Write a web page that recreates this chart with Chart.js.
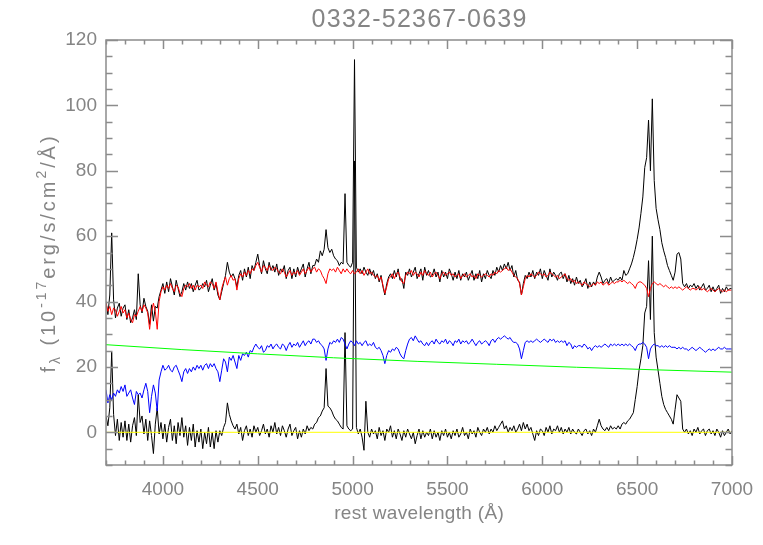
<!DOCTYPE html>
<html><head><meta charset="utf-8">
<script src="https://cdn.jsdelivr.net/npm/chart.js@4.4.1/dist/chart.umd.min.js"></script>
<style>html,body{margin:0;padding:0;background:#fff}#wrap{width:763px;height:545px}</style>
</head><body><div id="wrap"><canvas id="c" width="763" height="545"></canvas></div>
<script>
const chartTitle = '0332-52367-0639';
const xTitle = 'rest wavelength (Å)';
const yTitleParts = [['f',0],['λ',-1],[' (10',0],['-17',1],['erg/s/cm',0],['2',1],['/Å)',0]];
const xTicks = [4000,4500,5000,5500,6000,6500,7000];
const yTicks = [0,20,40,60,80,100,120];

const wave = [
3700,3710,3720,3730,3740,3750,3760,3770,3780,3790,
3800,3810,3820,3830,3840,3850,3860,3870,3880,3890,
3900,3910,3920,3930,3940,3950,3960,3970,3980,3990,
4000,4010,4020,4030,4040,4050,4060,4070,4080,4090,
4100,4110,4120,4130,4140,4150,4160,4170,4180,4190,
4200,4210,4220,4230,4240,4250,4260,4270,4280,4290,
4300,4310,4320,4330,4340,4350,4360,4370,4380,4390,
4400,4410,4420,4430,4440,4450,4460,4470,4480,4490,
4500,4510,4520,4530,4540,4550,4560,4570,4580,4590,
4600,4610,4620,4630,4640,4650,4660,4670,4680,4690,
4700,4710,4720,4730,4740,4750,4760,4770,4780,4790,
4800,4810,4820,4830,4840,4850,4860,4870,4880,4890,
4900,4910,4920,4930,4940,4950,4960,4970,4980,4990,
5000,5010,5020,5030,5040,5050,5060,5070,5080,5090,
5100,5110,5120,5130,5140,5150,5160,5170,5180,5190,
5200,5210,5220,5230,5240,5250,5260,5270,5280,5290,
5300,5310,5320,5330,5340,5350,5360,5370,5380,5390,
5400,5410,5420,5430,5440,5450,5460,5470,5480,5490,
5500,5510,5520,5530,5540,5550,5560,5570,5580,5590,
5600,5610,5620,5630,5640,5650,5660,5670,5680,5690,
5700,5710,5720,5730,5740,5750,5760,5770,5780,5790,
5800,5810,5820,5830,5840,5850,5860,5870,5880,5890,
5900,5910,5920,5930,5940,5950,5960,5970,5980,5990,
6000,6010,6020,6030,6040,6050,6060,6070,6080,6090,
6100,6110,6120,6130,6140,6150,6160,6170,6180,6190,
6200,6210,6220,6230,6240,6250,6260,6270,6280,6290,
6300,6310,6320,6330,6340,6350,6360,6370,6380,6390,
6400,6410,6420,6430,6440,6450,6460,6470,6480,6490,
6500,6510,6520,6530,6540,6550,6560,6570,6580,6590,
6600,6610,6620,6630,6640,6650,6660,6670,6680,6690,
6700,6710,6720,6730,6740,6750,6760,6770,6780,6790,
6800,6810,6820,6830,6840,6850,6860,6870,6880,6890,
6900,6910,6920,6930,6940,6950,6960,6970,6980,6990,
7000];

const fluxObs = [
40,36,42,61,40.5,35,38,39.5,35.5,38,
39,34.5,37.5,33.5,35,37.5,34.5,48.5,39,36.5,
41,38.5,37,33,39,34,38.5,38,41.5,43.5,
45.5,42.5,46,43,47,44.5,42,46.5,44,41.5,
43,45.5,43.5,46,44,45.5,43,45,46.5,43.5,
44,45.5,44.5,46.5,43,45,47,43.5,45.5,42,
40.5,43,45.5,48,52,49,47.5,48.5,47,44.5,
48,49.5,46.5,50,47.5,50.5,47,51,49.5,52,
54.5,51,48.5,52.5,50,48.5,52,49.5,51,49,
51.5,48,50,49,51,47,49.5,50.5,47,50,
47.5,50.5,48.5,50,51.5,47.5,50,52,48.5,51,
51,53,52,55.5,54,56,62,56.5,55,56,
54,53,52.5,51,52,51.5,73,52,51,50.5,
52,114,50.5,49,50,48.5,50.5,49,48,50,
48,49.5,47,48.5,46,48,44.5,42,45.5,47.5,
48.5,47,49.5,47.5,50,46.5,47,44,49,48,
50,47.5,49,50.5,47,48.5,50,46.5,50.5,48,
49.5,47.5,48,50,47.5,49,46,49.5,47.5,49,
47,50,48.5,46.5,49,47,49.5,46.5,48.5,47.5,
49,46.5,48,49.5,46.5,48.5,47,49.5,46,48.5,
47,49.5,48,47,49.5,48,50.5,49,51,49.5,
51.5,50,52,49.5,51,47.5,49.5,46.5,46,42,
45.5,48,47,49,47.5,49.5,47,49,48,50,
47,49.5,48,46.5,50,47.5,49,48,46.5,48.5,
49,47,48.5,46,48,45.5,47,45,47.5,45.5,
46.5,44.5,45.5,47,44,46,44.5,46,45,47.5,
49,47.5,45.5,46.5,47,45.5,47.5,46,46.5,47,
46.5,47.5,46.5,49.5,48,48.5,50,51.5,53.5,56,
59,62.5,67,72,81,84,95.5,80,102,77,
68.5,65,62,58,55.5,53.5,51,49.5,48,46.5,
49,54.5,55,53,45.5,44.5,45.5,44,45,44.5,
45.5,44,45,43.5,44.5,45.5,43.5,44,45,43,
44.5,43,44,45,42.5,44,43,44.5,43.5,44,
44];

const fluxModel = [
39.5,37,38.5,36,38,37.5,35.5,37,38.5,36.5,
37.5,35,36.5,34.5,33.5,36,35.5,37,38.5,37,
39,38,36.5,31.5,37,39.5,37,31.5,40,43,
44.5,43.5,45,44,45.5,44,43,45,44.5,42.5,
41.5,44,45,44.5,45.5,44,45,43.5,45,44.5,
45,44,46,45,44.5,46,45.5,44,46,43,
40.5,44,46,47.5,45,47,48,46.5,47,43.5,
47,48.5,47.5,49,48,49.5,48.5,50,49.5,51,
52,50.5,49,51,50.5,49.5,51,50,49.5,50.5,
50,49,48.5,50,49,47.5,48.5,49.5,48,49,
48.5,49.5,48,49,50,48.5,49.5,50.5,49,50,
50.5,49,50,49.5,48,47,45.5,48.5,50,49.5,
50,49,50.5,49.5,48.5,50,49,50,49,48.5,
49.5,48.5,49,50,48.5,49.5,48,49,50,48.5,
49,48,47.5,48,46.5,47.5,45,42.5,44.5,47,
47.5,48.5,47,48.5,49,47.5,46,45.5,48,49,
48.5,49.5,48,49,48.5,47.5,49,48,49.5,48.5,
48,49,47.5,48.5,49,48,47,48.5,49,48,
48.5,49,48,48.5,47.5,48,48.5,47,48,48.5,
47.5,48,48.5,47.5,48,47,48.5,48,47.5,48,
48.5,48,47.5,48.5,48,49,48.5,49.5,49,49.5,
50,50.5,49.5,50,49,48,47.5,47,45.5,42,
44.5,47,48,47.5,48.5,48,47.5,48,49,48.5,
48,48.5,47.5,48,49,48.5,48,47.5,48,47,
47.5,48,48.5,47,46.5,47,46,46.5,45.5,46,
45.5,45,46,45.5,45,44.5,45,45.5,45,46,
45.5,46,45,45.5,46,45,45.5,46,45.5,46,
46,46.5,46,46.5,46,45.5,46,45.5,45,44,
45.5,46,46,45.5,45,44,41.5,44,45.5,46,
45.5,45,45.5,45,44.5,45,44.5,44,44.5,44,
44.5,44,44.5,44,43.5,44,44.5,44,43.5,44,
44,43.5,44,44.5,43.5,44,43.5,43,43.5,44,
43.5,43,43.5,44,43.5,43,43.5,43,43.5,43.5,
43.5];

const fluxHost = [
13,9,11.5,10,12,11,13,12,14,12.5,
14.5,11,12,13,10.5,8.5,12.5,11.5,12,10.5,
13,15,12.5,6,11,14.5,12,6.5,16,18.5,
20.5,19,19.5,20.5,19,18.5,20,20.5,19,17.5,
15.5,18.5,19.5,18,19.5,18.5,20,19,20.5,19.5,
20.5,19,20.5,21,19.5,21,20,21,19.5,18.5,
15.5,19,22.5,21.5,18.5,23,22,23.5,21.5,19.5,
23.5,22,24,23.5,24.5,23,25,24.5,26,27,
26,25.5,26.5,24.5,25,26.5,26,27,25.5,26.5,
27,26,25.5,27,26.5,25,26.5,27.5,26,27,
26.5,27.5,26,27,28,26.5,27.5,28,27,28.5,
28.5,27.5,28,27,26.5,25.5,22,25.5,27.5,27,
28,27.5,28.5,27.5,29,28.5,27,25.5,27,28,
27.5,26.5,28,27,27.5,26.5,27.5,28,26.5,27,
26.5,27.5,26,25.5,26,25,23.5,21,23.5,25,
24.5,25.5,25,26,25.5,24,23,22.5,25,27,
28.5,29,28,29.5,28.5,27.5,28,27,26.5,27.5,
26.5,27.5,28,27,28.5,27.5,27,28,27.5,28.5,
27,28,27.5,26.5,28,27.5,28.5,27,28,27.5,
28,27,27.5,28.5,27.5,26.5,27.5,28,27,27.5,
28,27.5,26.5,28,28.5,27.5,28.5,29,28.5,29,
29.5,29,28.5,29,28,27.5,27.5,27,25.5,22.5,
25,27.5,28,27.5,28,27.5,28,28.5,28,27.5,
28,28.5,28,27.5,28.5,28,28.5,27.5,28,27.5,
28,27.5,28,26.5,27.5,27,25.5,26.5,26,26.5,
26.5,26,27,26.5,25.5,26,25,26,26.5,26,
26.5,26,26.5,27,26.5,26,27,26.5,27,26.5,
27,26.5,27,26.5,27,26.5,27,26.5,26,25,
26.5,27,27,27.5,27,26,22.5,25.5,26.5,27,
26.5,26.5,26,26.5,26,26.5,26,26.5,26,26,
26,25.5,26,25.5,26,25.5,25.5,25,25.5,26,
25.5,25,25.5,26,25.5,25,24.5,25,25.5,25,
25.5,25,25.5,26,25.5,25.5,26,25.5,25.5,25.5,
25.5];

const fluxLines = [
5,2,7.5,24.5,5.5,-1,4,-2.5,3,-1.5,
3.5,-2.5,2.5,-3,2,4.5,-1,11.5,3,5,
-0.5,4,-2.5,3.5,-1,-6.5,2.5,7.5,-0.5,3,
-2,2.5,-3,1.5,4,-2.5,2,-3.5,3,-1,
4.5,-1.5,2,-4,1.5,-2.5,2.5,-4.5,0.5,-3,
1,-5,0,-3.5,1.5,-4.5,0,-5,0.5,-3,
0.5,-1,1.5,3,9,5.5,3.5,2,1,2.5,
-0.5,1.5,-2.5,0.5,2,-1,1,-1.5,2,0,
1.5,-1,0.5,2.5,-0.5,1,-1.5,2,0,3,
-0.5,1.5,-1,2,0.5,-1.5,1,2.5,-1,0.5,
1.5,-2,0.5,-1.5,1,-0.5,2,0.5,1.5,1,
2.5,3,4.5,5,6.5,7.5,19.5,8,7.5,6.5,
5,4,3.5,2.5,1.5,1,30.5,2,1,0.5,
1,83,1.5,-0.5,1,-1.5,-5.5,9.5,0,-1.5,
1,-0.5,0.5,-2,1.5,-1,0.5,-2.5,1,0,
2,-1.5,0.5,-2,1,-0.5,-2.5,0.5,-1.5,1,
-0.5,-2,0,-3.5,-1,1,-2,0.5,-1.5,0,
-1,1,-2,0.5,-1.5,0,-2.5,0.5,-1,1,
-1.5,0,-2,0.5,-1,1,-1.5,-0.5,1.5,-1,
0,-2,1,-0.5,0.5,-1.5,1.5,0,-1,1,
0,1.5,-0.5,1,0,2,0.5,1.5,2.5,3.5,
1,2,0,1.5,0.5,2,0,1,2.5,0.5,
3,1,2.5,0.5,1.5,-0.5,-2.5,0.5,-1,1,
0.5,-1,1.5,0,2,-0.5,1,0.5,2,0,
1.5,-0.5,1,0,1.5,-0.5,1,0,-0.5,1,
0,-1,0.5,1,-0.5,0.5,-1,1,0,2,
4,2,1,0.5,1.5,0.5,2,1,1.5,1,
2,1,2.5,3,2.5,3.5,4,5,6,10,
14,19,22.5,26.5,36.5,38.5,52.5,34.5,60,30.5,
23,19,15,11,8.5,7,6,5,4,2.5,
7,11.5,10.5,9.5,1,0,1,-0.5,0.5,-1,
1,0,1.5,-0.5,0.5,1,-1,0.5,1,-0.5,
0.5,-1,1,0,-1.5,0.5,-1,0,1,-0.5,
0.5];

const plWave = [3700,4100,4500,4900,5340,5760,6180,6600,7000];
const plFlux = [26.8,25.3,24.0,22.8,21.7,20.8,19.9,19.1,18.4];
const zeroWave = [3700,7000];
const zeroFlux = [0,0];

const FONT = "'Liberation Sans', Arial, sans-serif";
const TEXT = '#858585';
const AXIS = '#8c8c8c';

function pts(xs, ys) { return xs.map((x, i) => ({x: x, y: ys[i]})); }
function ds(xs, ys, color) {
  return {data: pts(xs, ys), borderColor: color, backgroundColor: color, borderWidth: 1,
          pointRadius: 0, tension: 0, fill: false};
}

function spacedText(ctx, text, x, y, target) {
  ctx.letterSpacing = '0px';
  const w = ctx.measureText(text).width;
  const sp = Math.max(0, (target - w) / text.length);
  ctx.letterSpacing = sp + 'px';
  ctx.fillText(text, x + sp / 2, y);
  ctx.letterSpacing = '0px';
}

const decor = {
  id: 'decor',
  afterDatasetsDraw(chart) {
    const {ctx, chartArea: a, scales: {x, y}} = chart;
    ctx.save();
    ctx.strokeStyle = AXIS; ctx.lineWidth = 1.5;
    ctx.strokeRect(a.left, a.top, a.right - a.left, a.bottom - a.top);
    ctx.beginPath();
    for (let v = 3700; v <= 7000; v += 100) {
      const px = Math.round(x.getPixelForValue(v)) + 0.5;
      const len = v % 500 === 0 ? 9 : 4.5;
      ctx.moveTo(px, a.bottom); ctx.lineTo(px, a.bottom - len);
      ctx.moveTo(px, a.top); ctx.lineTo(px, a.top + len);
    }
    for (let v = -10; v <= 120; v += 5) {
      const py = Math.round(y.getPixelForValue(v)) + 0.5;
      const len = v % 20 === 0 ? 12 : 6.5;
      ctx.moveTo(a.left, py); ctx.lineTo(a.left + len, py);
      ctx.moveTo(a.right, py); ctx.lineTo(a.right - len, py);
    }
    ctx.stroke();

    ctx.fillStyle = TEXT;
    ctx.textAlign = 'center'; ctx.textBaseline = 'middle';
    const cx = (a.left + a.right) / 2;
    ctx.font = '25px ' + FONT;
    spacedText(ctx, chartTitle, cx, 20, 216);
    ctx.font = '19px ' + FONT;
    spacedText(ctx, xTitle, cx, 514, 170);

    // y title with sub/superscripts
    ctx.translate(55, 253);
    ctx.rotate(-Math.PI / 2);
    ctx.textAlign = 'left'; ctx.textBaseline = 'alphabetic';
    const big = '20px ' + FONT, small = '14px ' + FONT;
    let total = 0, n = 0;
    const widths = yTitleParts.map(([t, s]) => {
      ctx.font = s ? small : big;
      const w = ctx.measureText(t).width; total += w; n += t.length; return w;
    });
    const sp = Math.max(0, (239 - total) / n);
    ctx.letterSpacing = sp + 'px';
    let px = -239 / 2;
    yTitleParts.forEach(([t, s], i) => {
      ctx.font = s ? small : big;
      const off = s === 1 ? -9 : (s === -1 ? 5 : 0);
      ctx.fillText(t, px, off);
      px += widths[i] + sp * t.length;
    });
    ctx.restore();
  }
};

new Chart(document.getElementById('c'), {
  type: 'line',
  data: {
    datasets: [
      ds(zeroWave, zeroFlux, '#ffff00'),
      ds(plWave, plFlux, '#00ff00'),
      ds(wave, fluxHost, '#0000ff'),
      ds(wave, fluxModel, '#ff0000'),
      ds(wave, fluxLines, '#000000'),
      ds(wave, fluxObs, '#000000')
    ]
  },
  options: {
    responsive: false,
    devicePixelRatio: 1,
    animation: false,
    layout: {padding: {top: 40, right: 31, left: 0, bottom: 0}},
    plugins: {legend: {display: false}, tooltip: {enabled: false}, title: {display: false}},
    scales: {
      x: {
        type: 'linear', position: 'bottom', min: 3700, max: 7000,
        grid: {display: false, drawTicks: false}, border: {display: false},
        ticks: {color: TEXT, font: {family: FONT, size: 19}, padding: 13, maxRotation: 0, autoSkip: false,
                callback: v => String(v)},
        afterBuildTicks: s => { s.ticks = xTicks.map(v => ({value: v})); },
        afterFit: s => { s.height = 80; s.paddingLeft = 0; s.paddingRight = 0; }
      },
      y: {
        type: 'linear', position: 'left', min: -10, max: 120,
        grid: {display: false, drawTicks: false}, border: {display: false},
        ticks: {color: TEXT, font: {family: FONT, size: 19}, padding: 9, autoSkip: false,
                callback: v => String(v)},
        afterBuildTicks: s => { s.ticks = yTicks.map(v => ({value: v})); },
        afterFit: s => { s.width = 106; s.paddingTop = 0; s.paddingBottom = 0; }
      }
    }
  },
  plugins: [decor]
});
</script>
</body></html>
